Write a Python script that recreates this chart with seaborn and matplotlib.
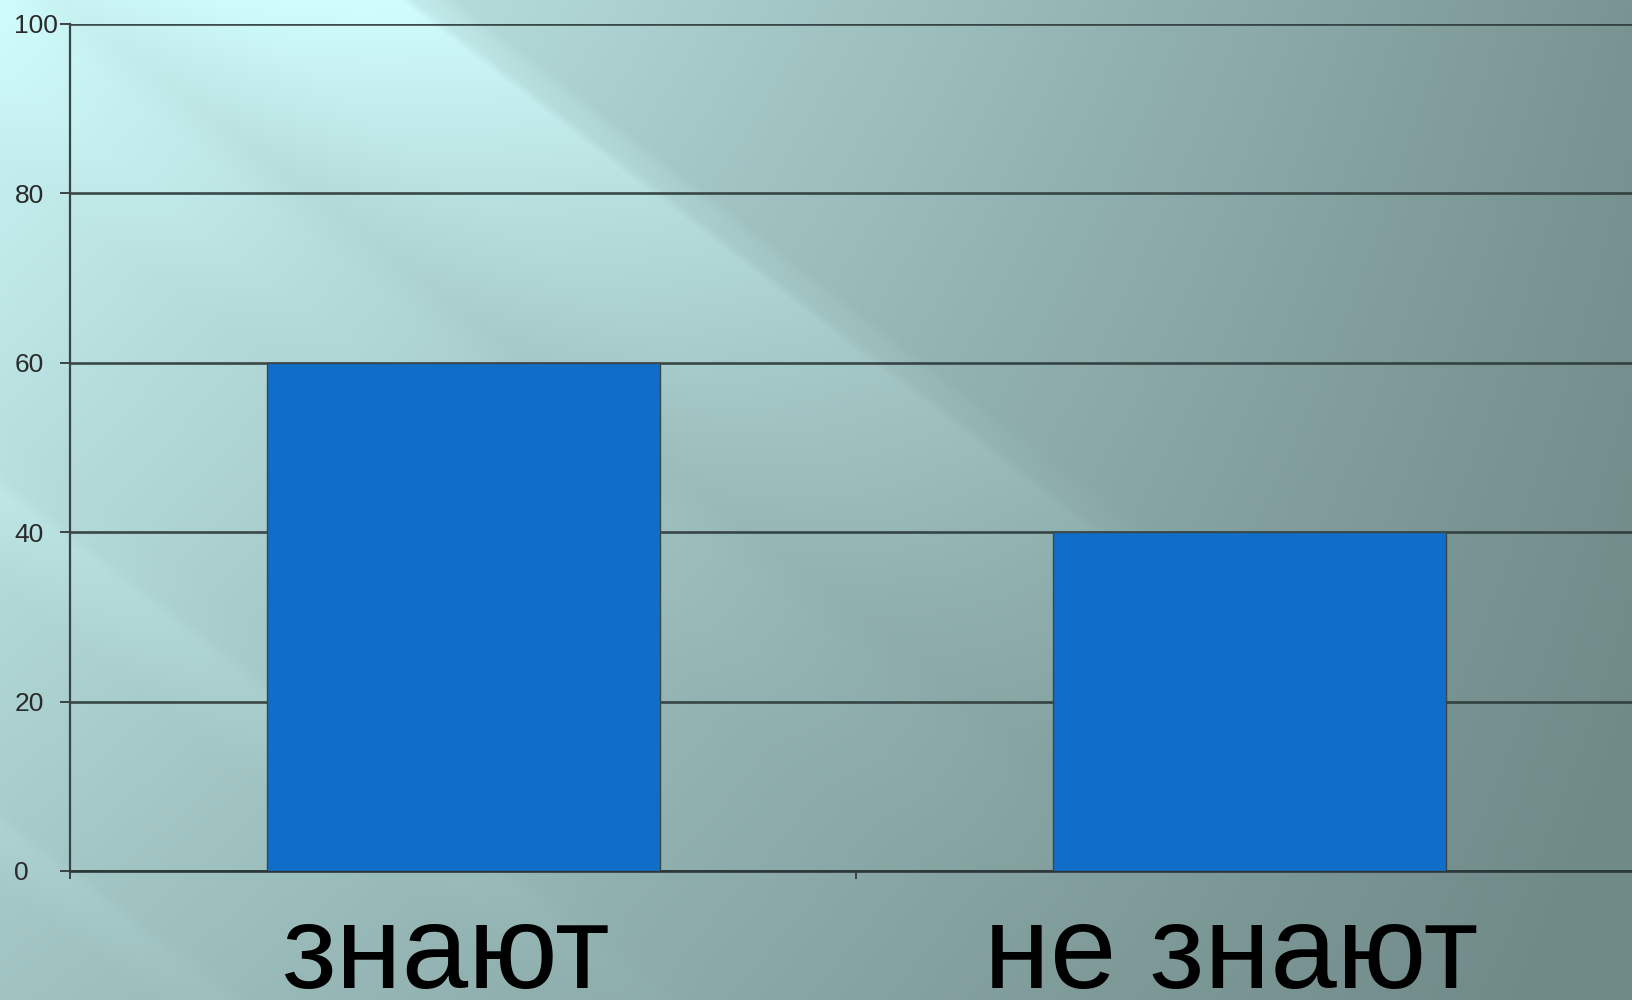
import numpy as np
import pandas as pd
import matplotlib
matplotlib.use("Agg")
import matplotlib.pyplot as plt
import matplotlib.transforms as mtransforms
import seaborn as sns

categories = ["знают", "не знают"]
values = [60, 40]
yticks = [0, 20, 40, 60, 80, 100]

sns.set_theme(style="white")
plt.rcParams["font.family"] = ["Liberation Sans", "DejaVu Sans"]

W, H = 1632, 1000
fig = plt.figure(figsize=(W / 100, H / 100), dpi=100)

# background: gradient with diagonal light streaks fading toward bottom-right
yy, xx = np.mgrid[0:H, 0:W].astype(float)
u = xx - 1.3 * yy
t = 0.95 - xx / 1900.0 - yy * (0.00045 - 0.0002 * xx / 1000.0)
fade = np.clip(1.2 - (xx + yy) / 1800.0, 0, 1)
streak = np.interp(u, [60, 220, 400, 414, 440, 458], [0.0, 0.16, 0.28, 0.13, 0.08, 0.0])
streak += np.interp(u, [-760, -680, -640, -615, -560], [0.0, 0.07, 0.09, 0.02, 0.0])
streak += np.interp(u, [-1150, -1100, -1075, -1050], [0.0, 0.06, 0.07, 0.0])
streak += np.interp(u, [-200, -100, 0, 60], [0.0, 0.05, 0.05, 0.0])
t = np.clip(t + streak * fade, 0, 1)
light = np.array([208, 252, 252]) / 255.0
dark = np.array([112, 138, 136]) / 255.0
img = dark[None, None, :] + (light - dark)[None, None, :] * t[..., None]
bg = fig.add_axes([0, 0, 1, 1], zorder=-10)
bg.imshow(img, aspect="auto", interpolation="bilinear")
bg.set_axis_off()

ax = fig.add_axes([70 / W, 129 / H, 1572 / W, 847 / H])
ax.set_facecolor("none")
df = pd.DataFrame({"cat": categories, "val": values})
sns.barplot(data=df, x="cat", y="val", ax=ax, color="#106ec8", saturation=1,
            width=0.5, edgecolor="#3a4646", linewidth=1.0, zorder=3)
ax.set_xlim(-0.5, 1.5)
ax.set_ylim(0, 100)
ax.set_yticks(yticks)
ax.set_yticklabels([str(v) for v in yticks], fontsize=19, color="#2a2a2a")
for lab in ax.get_yticklabels():
    lab.set_horizontalalignment("left")
ax.set_xlabel("")
ax.set_ylabel("")
ax.set_axisbelow(True)
ax.yaxis.grid(True, color="#2c3838", linewidth=1.9, alpha=0.9)
ax.xaxis.grid(False)
for s in ["top", "right"]:
    ax.spines[s].set_visible(False)
ax.spines["left"].set_color("#3a4444")
ax.spines["left"].set_linewidth(1.6)
ax.spines["bottom"].set_color("#2c3838")
ax.spines["bottom"].set_linewidth(1.9)
ax.tick_params(axis="y", which="major", direction="out", length=7, width=1.4,
               color="#3a4444", pad=33, left=True)
ax.set_xticks([-0.5, 0.5, 1.5], minor=True)
ax.tick_params(axis="x", which="minor", direction="out", length=6, width=1.4,
               color="#3a4444", bottom=True)
ax.tick_params(axis="x", which="major", length=0, pad=22)
ax.set_xticks([0, 1])
ax.set_xticklabels(categories, fontsize=86, color="black")
shift = mtransforms.ScaledTranslation(-18 / 100, 0, fig.dpi_scale_trans)
for lab in ax.get_xticklabels():
    lab.set_transform(lab.get_transform() + shift)

fig.savefig("out.png", dpi=100)
